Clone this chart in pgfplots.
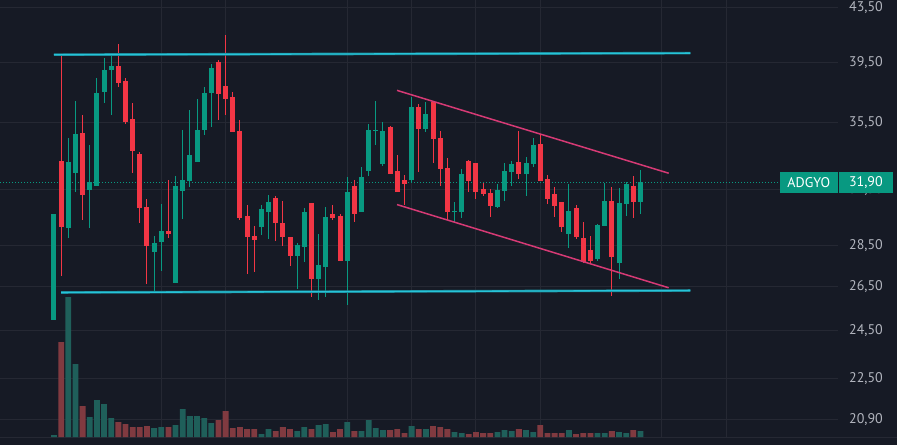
\documentclass[border=0pt]{standalone}
\usepackage{pgfplots}
\pgfplotsset{compat=1.18}
\usepackage{pgfplotstable}
\usepackage{fontspec}
\setmainfont{PT Sans}
\definecolor{bg}{HTML}{161A25}
\definecolor{gridc}{HTML}{252833}
\definecolor{upc}{HTML}{089981}
\definecolor{dnc}{HTML}{F23645}
\definecolor{upv}{HTML}{1F5F5A}
\definecolor{dnv}{HTML}{803A40}
\definecolor{cyanl}{HTML}{27C3D8}
\definecolor{cyand}{HTML}{1A8796}
\definecolor{pinkl}{HTML}{D63A75}
\definecolor{lab}{HTML}{B2B5BE}

% i = candle index, o h l c = open high low close, v = volume (relative)
\pgfplotstableread{
i o h l c v
0 24.97 30.15 24.97 30.15 2
2 29.43 34.53 28.91 33.07 140
3 32.45 36.86 31.37 34.76 73
5 31.49 34.09 29.43 31.90 20
6 31.71 38.41 31.71 37.39 37
7 37.48 39.80 36.75 38.96 33
8 38.98 40.03 35.98 39.23 19
14 28.20 29.00 26.25 28.63 9
15 28.70 30.69 27.26 29.26 10
17 26.68 32.26 26.68 31.69 12
18 31.43 35.01 29.90 32.03 28
19 31.97 36.28 31.66 33.49 21
20 33.09 37.00 33.09 35.01 21
21 35.01 37.80 34.70 37.39 19
22 37.39 39.38 35.20 39.10 14
29 29.47 30.64 29.05 30.42 3
30 30.26 31.19 28.84 30.80 8
34 27.98 28.63 26.39 28.53 6
35 28.43 30.48 27.68 30.26 10
37 26.86 29.10 25.87 27.54 12
38 27.44 30.53 26.01 29.99 13
41 27.73 32.20 25.65 31.36 15
43 30.26 32.78 30.26 32.20 6
44 32.55 35.38 32.26 35.01 17
45 34.95 36.86 34.09 35.01 9
46 32.96 35.51 32.84 34.95 7
50 32.03 37.13 31.92 36.47 11
52 35.07 36.80 34.89 36.02 8
56 30.26 30.80 29.72 30.31 5
57 30.26 32.67 29.94 32.38 4
62 30.51 31.80 30.46 31.47 5
63 31.43 33.01 30.87 32.55 7
64 32.49 33.13 31.71 32.96 6
66 32.38 33.37 31.12 33.01 7
67 32.96 34.51 32.80 34.09 5
72 29.10 31.80 28.37 30.31 7
76 27.83 29.62 27.73 29.57 4
77 29.52 31.86 29.52 30.86 4
79 27.63 31.58 26.86 30.75 5
80 30.69 31.92 30.05 31.80 4
82 30.80 32.61 30.15 31.90 6
}\uptab

\pgfplotstableread{
i o h l c v
1 33.13 40.08 27.02 29.48 95
4 34.82 35.96 29.85 31.21 31
9 39.23 40.80 37.82 38.09 15
10 38.20 38.41 35.40 35.53 13
11 35.70 36.73 32.45 33.75 10
12 33.55 33.67 29.69 30.49 10
13 30.53 30.96 26.63 28.49 11
16 29.26 32.03 28.91 29.12 10
23 39.52 39.66 35.64 37.35 17
24 37.86 41.46 35.96 37.00 26
25 37.13 37.46 34.89 34.89 9
26 34.95 35.64 29.83 29.94 10
27 30.05 30.64 27.11 28.95 8
28 29.00 29.52 27.21 28.79 8
31 31.02 31.13 28.74 29.67 6
32 29.67 30.86 28.48 28.95 10
33 28.95 28.95 27.49 27.98 8
36 30.75 30.75 26.01 26.86 8
39 30.15 30.64 29.83 29.94 5
40 30.05 30.15 27.73 27.73 8
42 31.69 32.03 29.72 30.15 6
47 35.20 35.26 32.38 32.38 7
48 32.55 33.49 31.36 31.36 8
49 32.03 32.32 30.64 31.82 4
51 36.47 36.66 32.49 35.07 8
53 36.80 36.86 33.02 34.45 11
54 34.51 34.95 31.69 32.67 10
55 32.72 33.31 29.83 30.26 8
58 33.13 33.19 31.36 31.97 3
59 33.01 33.01 30.96 31.36 5
60 31.53 31.86 31.13 31.26 4
61 31.30 31.53 30.00 30.60 4
65 33.07 34.95 32.09 32.38 8
68 34.15 34.76 31.97 31.97 12
69 32.09 32.32 30.69 30.96 4
70 31.24 31.64 30.00 30.58 4
71 30.80 30.80 29.21 29.47 4
73 30.48 30.64 28.86 28.95 3
74 28.89 29.72 27.63 27.68 4
75 28.28 29.00 27.63 27.73 4
78 30.86 31.64 26.06 27.93 6
81 31.69 32.26 29.94 30.80 7
}\dntab

\begin{document}
\begin{tikzpicture}[x=1pt,y=1pt]
\fill[bg] (0,0) rectangle (897,445);
\draw[gridc, line width=1pt] (0,8) -- (897,8);

% grid and price scale
\begin{axis}[ymode=log, at={(0pt,8pt)}, anchor=south west, scale only axis,
  width=838pt, height=437pt, xmin=-7.55, xmax=109.62, ymin=20.275, ymax=44.123,
  axis line style={draw=none}, major tick length=0pt,
  xtick={15,24,41,50,59,68,85,94}, xticklabels={},
  ytick={20.9,22.5,24.5,26.5,28.5,31.5,35.5,39.5,43.5},
  yticklabels={{20,90},{22,50},{24,50},{26,50},{28,50},{31,50},{35,50},{39,50},{43,50}},
  yticklabel pos=right,
  yticklabel style={anchor=west, inner sep=0pt, xshift=11pt,
    font=\fontsize{14}{16}\selectfont, text=lab},
  grid=major, major grid style={gridc, line width=1pt}]
\addplot[draw=none] coordinates {(0,30)};
\end{axis}

% volume
\begin{axis}[at={(0pt,8pt)}, anchor=south west, scale only axis,
  width=838pt, height=437pt, xmin=-7.55, xmax=109.62, hide axis, ymin=0, ymax=437]
\addplot[ybar, bar width=5.8pt, bar shift=0pt, fill=upv, draw=none] table[x=i, y=v] {\uptab};
\addplot[ybar, bar width=5.8pt, bar shift=0pt, fill=dnv, draw=none] table[x=i, y=v] {\dntab};
\end{axis}

% candles and drawings
\begin{axis}[ymode=log, at={(0pt,8pt)}, anchor=south west, scale only axis,
  width=838pt, height=437pt, xmin=-7.55, xmax=109.62, ymin=20.275, ymax=44.123, hide axis]
\addplot[upc, line width=1.2pt, dash pattern=on 1.2pt off 1.8pt] coordinates {(-7.55,31.9) (109.62,31.9)};
\addplot[draw=none, mark=none, forget plot, error bars/y dir=both, error bars/y explicit, error bars/error mark=none, error bars/error bar style={draw=upc, line width=1pt}]
  table[x=i, y expr={(\thisrow{h}+\thisrow{l})/2}, y error expr={(\thisrow{h}-\thisrow{l})/2}] {\uptab};
\addplot[draw=none, mark=none, forget plot, error bars/y dir=both, error bars/y explicit, error bars/error mark=none, error bars/error bar style={draw=dnc, line width=1pt}]
  table[x=i, y expr={(\thisrow{h}+\thisrow{l})/2}, y error expr={(\thisrow{h}-\thisrow{l})/2}] {\dntab};
\addplot[draw=none, mark=none, forget plot, error bars/y dir=both, error bars/y explicit, error bars/error mark=none, error bars/error bar style={draw=upc, line width=5pt}]
  table[x=i, y expr={(\thisrow{o}+\thisrow{c})/2}, y error expr={max(abs(\thisrow{c}-\thisrow{o})/2,0.03)}] {\uptab};
\addplot[draw=none, mark=none, forget plot, error bars/y dir=both, error bars/y explicit, error bars/error mark=none, error bars/error bar style={draw=dnc, line width=5pt}]
  table[x=i, y expr={(\thisrow{o}+\thisrow{c})/2}, y error expr={max(abs(\thisrow{c}-\thisrow{o})/2,0.03)}] {\dntab};
% horizontal support / resistance
\addplot[cyand, line width=2.6pt] coordinates {(0,40.03) (88.97,40.14)};
\addplot[cyanl, line width=1.3pt] coordinates {(0,40.03) (88.97,40.14)};
\addplot[cyand, line width=2.6pt] coordinates {(0.98,26.22) (88.97,26.31)};
\addplot[cyanl, line width=1.3pt] coordinates {(0.98,26.22) (88.97,26.31)};
% descending channel
\addplot[pinkl, line width=1.5pt] coordinates {(47.96,37.57) (85.95,32.42)};
\addplot[pinkl, line width=1.5pt] coordinates {(47.96,30.66) (85.95,26.44)};
\end{axis}

% last price label
\fill[upc] (780,252.3) rectangle (837.7,273);
\fill[upc] (839,252.3) rectangle (892.7,273);
\node[white, inner sep=0pt, font=\fontsize{14}{16}\selectfont] at (808.8,262.6) {ADGYO};
\node[white, inner sep=0pt, font=\fontsize{14}{16}\selectfont] at (865.9,262.6) {31,90};

\pgfresetboundingbox
\path[use as bounding box] (0,0) rectangle (897,445);
\end{tikzpicture}
\end{document}
